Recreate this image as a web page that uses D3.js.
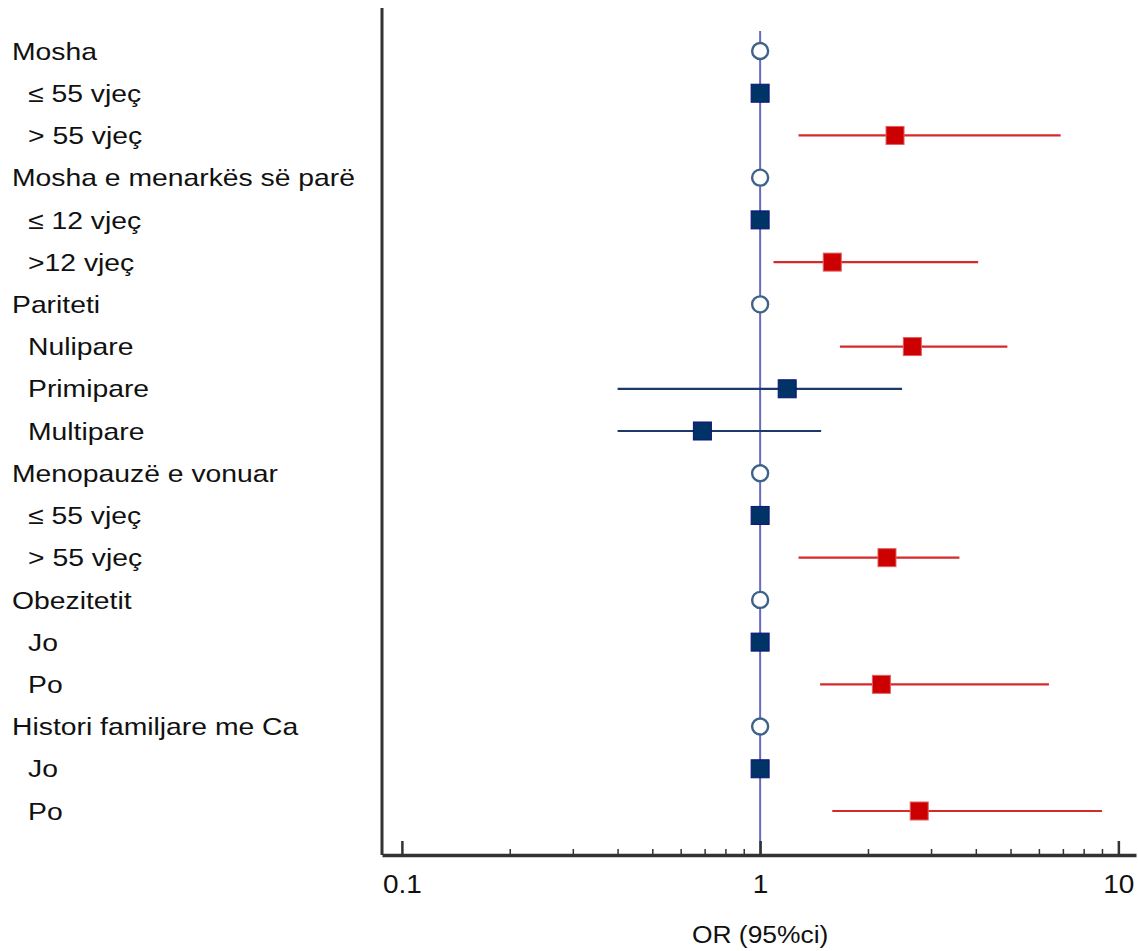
<!DOCTYPE html>
<html>
<head>
<meta charset="utf-8">
<script src="https://cdn.jsdelivr.net/npm/d3@7"></script>
<style>
  body { margin: 0; background: #fff; }
  text { font-family: "Liberation Sans", Arial, sans-serif; fill: #111; }
</style>
</head>
<body>
<div class="canvas"></div>
<script>
// row labels, top to bottom
const labels = ['Mosha', '≤ 55 vjeç', '> 55 vjeç', 'Mosha e menarkës së parë', '≤ 12 vjeç', '>12 vjeç',
  'Pariteti', 'Nulipare', 'Primipare', 'Multipare', 'Menopauzë e vonuar', '≤ 55 vjeç', '> 55 vjeç',
  'Obezitetit', 'Jo', 'Po', 'Histori familjare me Ca', 'Jo', 'Po'];
// group header rows
const headers = [1, 0, 0, 1, 0, 0, 1, 0, 0, 0, 1, 0, 0, 1, 0, 0, 1, 0, 0];
// odds ratios and 95% ci (null = reference, no interval)
const orValues = [1, 1, 2.38, 1, 1, 1.59, 1, 2.66, 1.19, 0.69, 1, 1, 2.26, 1, 1, 2.18, 1, 1, 2.78];
const lower = [null, null, 1.28, null, null, 1.09, null, 1.67, 0.40, 0.40, null, null, 1.28, null, null, 1.47, null, null, 1.59];
const upper = [null, null, 6.9, null, null, 4.06, null, 4.9, 2.49, 1.48, null, null, 3.6, null, null, 6.4, null, null, 9.0];
const majorTicks = [0.1, 1, 10];
const minorTicks = [0.2, 0.3, 0.4, 0.5, 0.6, 0.7, 0.8, 0.9, 2, 3, 4, 5, 6, 7, 8, 9];

const data = labels.map((l, i) => ({
  i, label: l, header: headers[i], or: orValues[i], lo: lower[i], hi: upper[i]
}));

const width = 1138, height = 951;
const svg = d3.select('.canvas')
  .append('svg')
  .attr('width', width)
  .attr('height', height);

// scales
const x = d3.scaleLog()
  .domain([0.088, 11.2])
  .range([382, 1136]);
const y = d3.scalePoint()
  .domain(d3.range(labels.length))
  .range([51, 811]);

const axisY = 855;

// row labels
svg.append('g').selectAll('text')
  .data(data)
  .enter().append('text')
  .attr('transform', d => `translate(${d.header ? 12 : 28}, ${y(d.i)}) scale(1.18,1)`)
  .attr('dy', '0.36em')
  .attr('font-size', 24)
  .text(d => d.label);

// reference line at OR = 1
svg.append('line')
  .attr('x1', x(1)).attr('x2', x(1))
  .attr('y1', 31).attr('y2', axisY)
  .attr('stroke', '#6a6ac0')
  .attr('stroke-width', 2);

// confidence intervals
const sig = d => d.lo != null && d.lo > 1;
svg.append('g').selectAll('line')
  .data(data.filter(d => d.lo != null))
  .enter().append('line')
  .attr('x1', d => x(d.lo))
  .attr('x2', d => x(d.hi))
  .attr('y1', d => y(d.i))
  .attr('y2', d => y(d.i))
  .attr('stroke', d => sig(d) ? '#d42a2a' : '#1c3a66')
  .attr('stroke-width', 2.2);

// reference circles for group headers
svg.append('g').selectAll('circle')
  .data(data.filter(d => d.header))
  .enter().append('circle')
  .attr('cx', d => x(d.or))
  .attr('cy', d => y(d.i))
  .attr('r', 8)
  .attr('fill', '#fff')
  .attr('stroke', '#3f6289')
  .attr('stroke-width', 2.4);

// point estimates
const sq = 18;
svg.append('g').selectAll('rect')
  .data(data.filter(d => !d.header))
  .enter().append('rect')
  .attr('x', d => x(d.or) - sq / 2)
  .attr('y', d => y(d.i) - sq / 2)
  .attr('width', sq)
  .attr('height', sq)
  .attr('fill', d => sig(d) ? '#cc0000' : '#003366')
  .attr('stroke', d => sig(d) ? '#e06060' : '#10107a')
  .attr('stroke-width', 1);

// left vertical axis line
svg.append('line')
  .attr('x1', 382).attr('x2', 382)
  .attr('y1', 8).attr('y2', axisY)
  .attr('stroke', '#333')
  .attr('stroke-width', 3);

// bottom axis - minor ticks
const minorAxis = d3.axisBottom(x)
  .tickValues(minorTicks)
  .tickSize(-6)
  .tickSizeOuter(0)
  .tickFormat('');
svg.append('g')
  .attr('transform', `translate(0, ${axisY})`)
  .call(minorAxis)
  .call(g => g.select('.domain').remove())
  .call(g => g.selectAll('line').attr('stroke', '#333').attr('stroke-width', 1.5));

// bottom axis - major ticks and labels
const majorAxis = d3.axisBottom(x)
  .tickValues(majorTicks)
  .tickSize(-14)
  .tickSizeOuter(0)
  .tickPadding(20)
  .tickFormat(d3.format('~g'));
const xAxisGroup = svg.append('g')
  .attr('transform', `translate(0, ${axisY})`)
  .call(majorAxis);
xAxisGroup.select('.domain')
  .attr('stroke', '#333')
  .attr('stroke-width', 3.5);
xAxisGroup.selectAll('line')
  .attr('stroke', '#333')
  .attr('stroke-width', 2.5);
xAxisGroup.selectAll('text')
  .attr('transform', 'scale(1.12,1)')
  .style('font-size', '25px')
  .attr('fill', '#111')
  .attr('font-family', '"Liberation Sans", Arial, sans-serif');

// axis title
svg.append('text')
  .attr('transform', `translate(${x(1)}, 934) scale(1.1,1)`)
  .attr('text-anchor', 'middle')
  .attr('dy', '0.36em')
  .attr('font-size', 24)
  .text('OR (95%ci)');
</script>
</body>
</html>
